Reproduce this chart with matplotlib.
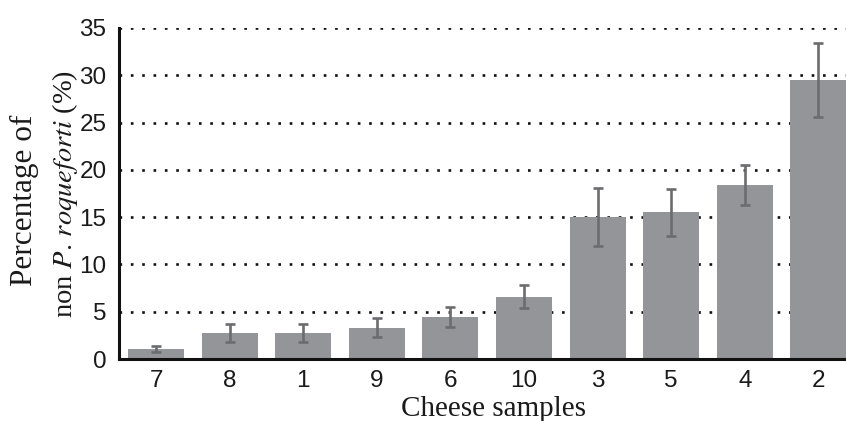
import numpy as np
import matplotlib.pyplot as plt

plt.rcParams['mathtext.fontset'] = 'stix'

# Cheese samples, ordered as in the figure
samples = ['7', '8', '1', '9', '6', '10', '3', '5', '4', '2']
# Percentage of non P. roqueforti (%)
percent = [1.05, 2.75, 2.75, 3.3, 4.4, 6.6, 15.0, 15.5, 18.4, 29.5]
# Error bar half-lengths
errors = [0.35, 0.9, 0.95, 1.0, 1.05, 1.25, 3.1, 2.5, 2.1, 3.95]
y_ticks = [0, 5, 10, 15, 20, 25, 30, 35]

W, H = 846, 421
fig = plt.figure(figsize=(W / 100, H / 100), dpi=100)
ax = fig.add_axes([119 / W, 1 - 359 / H, (W - 119) / W, (359 - 28) / H])

x = np.arange(len(samples))
ax.bar(x, percent, width=0.76, color='#939598', zorder=2)
ax.errorbar(x, percent, yerr=errors, fmt='none', ecolor='#6b6c6f',
            elinewidth=1.9, capsize=3.8, capthick=1.9, zorder=3)

# dotted horizontal grid behind the bars
for y in y_ticks[1:]:
    ax.axhline(y, color='#111111', linewidth=1.9, linestyle=(0, (1, 3.3)),
               dash_capstyle='butt', zorder=1)

ax.set_xlim(-0.503, 9.375)
ax.set_ylim(0, 35)
ax.set_yticks(y_ticks)
ax.set_xticks(x)
ax.set_xticklabels(samples)

for side in ['top', 'right']:
    ax.spines[side].set_visible(False)
for side in ['left', 'bottom']:
    ax.spines[side].set_linewidth(2.2)
    ax.spines[side].set_color('#111111')

ax.tick_params(axis='both', length=0, labelsize=17.5, colors='#1a1a1a')
ax.tick_params(axis='y', pad=9)
ax.tick_params(axis='x', pad=8)
for lbl in ax.get_xticklabels() + ax.get_yticklabels():
    lbl.set_fontfamily('Liberation Sans')

# axis titles
fig.text(24 / W, 1 - 200 / H, 'Percentage of', rotation=90, ha='center',
         va='center', fontsize=22.5, family='Liberation Serif', color='#1a1a1a')
fig.text(65 / W, 1 - 194 / H, r'non $\mathit{P.\,roqueforti}$ (%)',
         rotation=90, ha='center', va='center', fontsize=20.5,
         family='Liberation Serif', color='#1a1a1a')
fig.text(493 / W, 5 / H, 'Cheese samples', ha='center', va='baseline',
         fontsize=21, family='Liberation Serif', color='#1a1a1a')

fig.savefig('out.png', dpi=100)
